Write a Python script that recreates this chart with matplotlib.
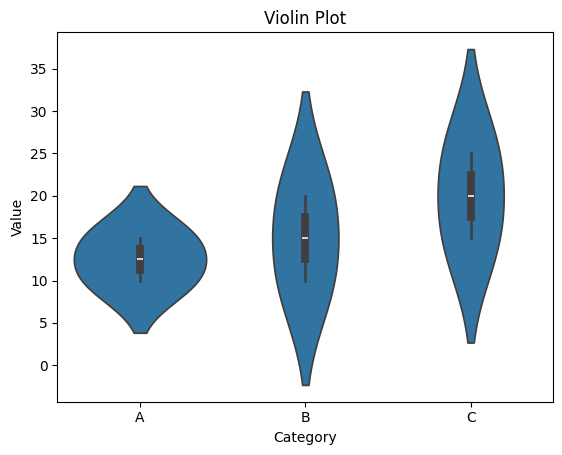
import matplotlib
matplotlib.use('Agg')
import matplotlib.pyplot as plt
import seaborn as sns
import pandas as pd

categories = ['A', 'A', 'B', 'B', 'C', 'C']
values = [10, 15, 10, 20, 15, 25]

df = pd.DataFrame({'Category': categories, 'Value': values})

fig = plt.figure(figsize=(5.62, 4.55), dpi=100)
ax = fig.add_axes([57.3 / 562, 1 - 401.7 / 455, (553.3 - 57.3) / 562, (401.7 - 32.3) / 455])
sns.violinplot(x='Category', y='Value', data=df, ax=ax)
ax.set_title('Violin Plot')
fig.savefig('out.png', dpi=100)
